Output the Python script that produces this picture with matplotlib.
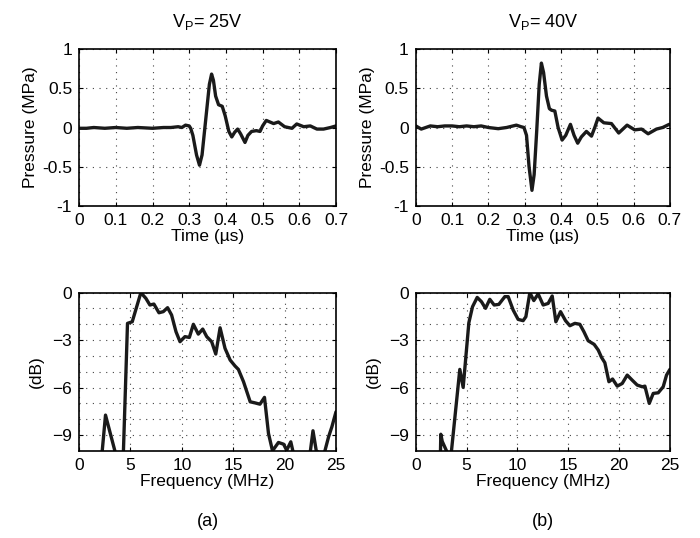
import numpy as np
import matplotlib.pyplot as plt
from matplotlib.ticker import MultipleLocator

plt.rcParams['font.family'] = ['Liberation Sans', 'DejaVu Sans']
plt.rcParams['font.size'] = 12.5

# pressure traces (time in us, pressure in MPa)
t_25 = [0.0, 0.02, 0.04, 0.07, 0.1, 0.13, 0.16, 0.2, 0.23, 0.25, 0.27, 0.28, 0.29, 0.3, 0.304,
        0.31, 0.32, 0.328, 0.335, 0.345, 0.355, 0.361, 0.366, 0.372, 0.38, 0.39, 0.398, 0.408,
        0.416, 0.424, 0.432, 0.44, 0.452, 0.46, 0.47, 0.483, 0.493, 0.5, 0.51, 0.52, 0.53,
        0.543, 0.56, 0.58, 0.593, 0.612, 0.63, 0.648, 0.666, 0.685, 0.7]
p_25 = [-0.01, -0.01, 0.0, -0.01, 0.0, -0.01, 0.0, -0.01, 0.0, 0.0, 0.01, 0.0, 0.03, 0.02, -0.01,
        -0.1, -0.35, -0.48, -0.35, 0.1, 0.55, 0.68, 0.6, 0.4, 0.29, 0.27, 0.15, -0.05,
        -0.12, -0.06, -0.02, -0.08, -0.19, -0.1, -0.05, -0.04, -0.05, 0.02, 0.09, 0.07, 0.05,
        0.07, 0.01, -0.01, 0.045, 0.01, 0.02, -0.02, -0.02, 0.0, 0.02]

t_40 = [0.0, 0.015, 0.04, 0.06, 0.08, 0.1, 0.12, 0.14, 0.16, 0.18, 0.2, 0.227, 0.25, 0.277,
        0.29, 0.298, 0.305, 0.312, 0.32, 0.326, 0.333, 0.34, 0.346, 0.352, 0.36, 0.368,
        0.374, 0.383, 0.392, 0.403, 0.413, 0.426, 0.436, 0.446, 0.456, 0.47, 0.484, 0.493,
        0.502, 0.518, 0.539, 0.559, 0.582, 0.603, 0.622, 0.64, 0.663, 0.68, 0.698]
p_40 = [0.02, -0.02, 0.02, 0.01, 0.02, 0.02, 0.01, 0.02, 0.01, 0.02, 0.0, -0.015, 0.0, 0.03,
        0.01, 0.0, -0.1, -0.5, -0.80, -0.6, -0.05, 0.55, 0.82, 0.7, 0.4, 0.24,
        0.22, 0.21, 0.0, -0.16, -0.1, 0.04, -0.1, -0.2, -0.12, -0.05, -0.11, 0.0,
        0.12, 0.06, 0.05, -0.07, 0.03, -0.03, -0.02, -0.08, -0.02, 0.0, 0.04]

# spectra (frequency in MHz, dB)
f_25 = [0.0, 2.18, 2.57, 3.48, 4.0, 4.29, 4.71, 5.17, 6.01, 6.5, 6.89, 7.28, 7.77, 8.19, 8.61,
        9.0, 9.43, 9.82, 10.3, 10.73, 11.12, 11.6, 12.03, 12.42, 12.9, 13.3, 13.72, 14.2,
        14.7, 15.18, 15.5, 16.0, 16.65, 17.07, 17.6, 18.04, 18.43, 18.82, 19.4, 19.9, 20.2,
        20.6, 20.8, 21.5, 22.43, 22.76, 23.08, 23.8, 24.28, 24.6, 25.0]
db_25 = [-14.0, -10.5, -7.74, -10.0, -13.0, -10.5, -1.94, -1.84, 0.0, -0.36, -0.78, -0.72, -1.27,
         -1.2, -0.95, -1.41, -2.47, -3.1, -2.78, -2.83, -2.0, -2.62, -2.3, -2.78, -3.1, -3.88,
         -2.22, -3.52, -4.26, -4.64, -4.85, -5.63, -6.9, -6.96, -7.05, -6.62, -8.9, -10.0,
         -9.47, -9.58, -9.96, -9.43, -10.0, -12.0, -10.4, -8.73, -10.0, -10.3, -9.11, -8.48, -7.53]

f_40 = [0.0, 2.4, 2.46, 2.6, 3.02, 3.3, 3.51, 4.33, 4.66, 5.22, 5.58, 6.04, 6.46, 6.86, 7.28,
        7.71, 8.17, 8.76, 9.09, 9.58, 10.07, 10.56, 10.83, 11.22, 11.61, 12.04, 12.53, 13.02,
        13.42, 13.78, 14.24, 14.73, 15.16, 15.65, 16.14, 16.54, 16.96, 17.55, 17.95, 18.27,
        18.6, 19.0, 19.36, 19.82, 20.31, 20.8, 21.29, 21.78, 22.28, 22.54, 22.97, 23.36,
        23.85, 24.34, 24.67, 25.0]
db_40 = [-14.0, -11.0, -8.95, -9.4, -10.0, -10.6, -10.0, -4.85, -5.99, -1.9, -0.89, -0.3, -0.57,
         -0.99, -0.42, -0.78, -0.74, -0.25, -0.25, -1.1, -1.69, -1.77, -1.52, 0.0, -0.5, -0.08,
         -0.78, -0.68, -0.21, -1.84, -1.2, -1.77, -2.09, -1.94, -2.0, -2.47, -3.04, -3.27,
         -3.63, -4.09, -4.43, -5.63, -5.46, -5.91, -5.74, -5.21, -5.53, -5.84, -5.95, -5.91,
         -7.0, -6.37, -6.33, -5.95, -5.21, -4.85]

titles = [r'$\mathregular{V_P}$= 25V', r'$\mathregular{V_P}$= 40V']
panel_labels = ['(a)', '(b)']

fig = plt.figure(figsize=(7.0, 5.38), dpi=100)
lefts = [0.113, 0.594]
widths = [0.367, 0.363]

line_kw = dict(color='#1a1a1a', lw=2.4, solid_joinstyle='round', solid_capstyle='round')
grid_kw = dict(color='#444444', linestyle=(0, (1, 5)), linewidth=0.8)

for i, (tt, pp, ff, dd) in enumerate([(t_25, p_25, f_25, db_25), (t_40, p_40, f_40, db_40)]):
    ax = fig.add_axes([lefts[i], 0.617, widths[i], 0.292])
    ax.plot(tt, pp, **line_kw)
    ax.set_xlim(0, 0.7)
    ax.set_ylim(-1, 1)
    ax.set_xticks(np.arange(0, 0.71, 0.1))
    ax.set_xticklabels(['0', '0.1', '0.2', '0.3', '0.4', '0.5', '0.6', '0.7'])
    ax.set_yticks([-1, -0.5, 0, 0.5, 1])
    ax.set_yticklabels(['-1', '-0.5', '0', '0.5', '1'])
    ax.grid(True, **grid_kw)
    ax.set_xlabel('Time (µs)', labelpad=1)
    ax.set_ylabel('Pressure (MPa)', labelpad=3)
    ax.set_title(titles[i], pad=16, fontsize=13)
    ax.tick_params(direction='in', length=3, pad=5, top=True, right=True)

    bx = fig.add_axes([lefts[i], 0.162, widths[i], 0.294])
    bx.plot(ff, dd, **line_kw)
    bx.set_xlim(0, 25)
    bx.set_ylim(-10, 0)
    bx.set_xticks([0, 5, 10, 15, 20, 25])
    bx.set_yticks([-9, -6, -3, 0])
    bx.yaxis.set_minor_locator(MultipleLocator(1))
    bx.grid(True, which='both', **grid_kw)
    bx.set_xlabel('Frequency (MHz)', labelpad=1)
    bx.set_ylabel('(dB)', labelpad=6)
    bx.tick_params(direction='in', length=3, pad=5, top=True, right=True)
    bx.tick_params(which='minor', length=0)
    fig.text(lefts[i] + widths[i] / 2, 0.03, panel_labels[i], ha='center', va='center', fontsize=13)

    for a in (ax, bx):
        for s in a.spines.values():
            s.set_linewidth(1.2)

fig.savefig('out.png', dpi=100)
